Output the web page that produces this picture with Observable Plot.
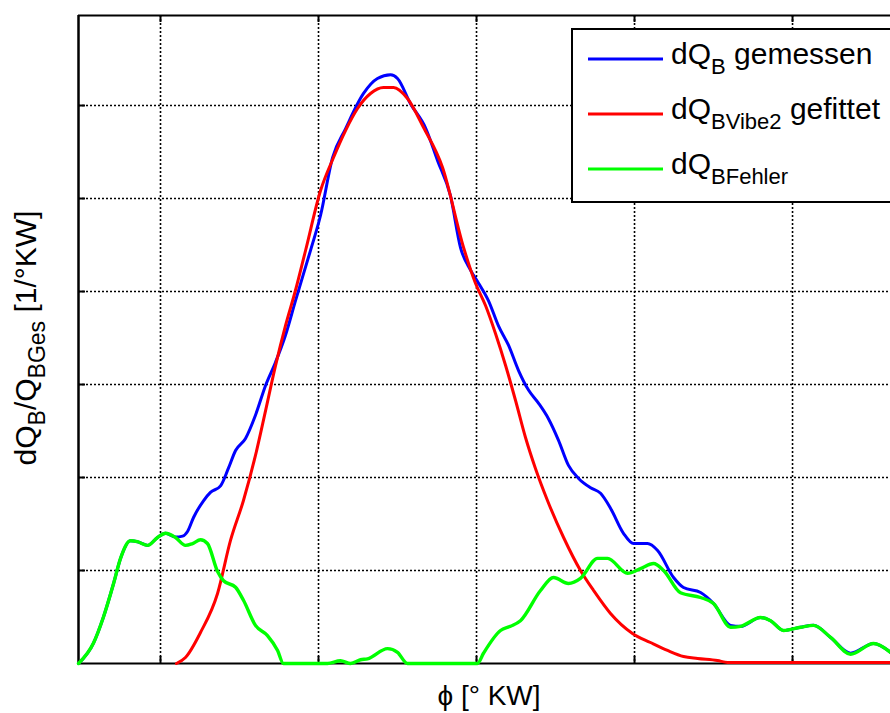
<!DOCTYPE html>
<html>
<head>
<meta charset="utf-8">
<script src="https://cdn.jsdelivr.net/npm/d3@7"></script>
<script src="https://cdn.jsdelivr.net/npm/@observablehq/plot@0.6"></script>
<style>
  html, body { margin: 0; padding: 0; background: #fff; }
  #chart svg { display: block; }
</style>
</head>
<body>
<div id="chart"></div>
<script>
// crank angle [° KW] (gridlines every 10°) and normalised heat release (gridline = 1 unit)
const xDomain = [-25.19, 26.2];
const yDomain = [0, 6.968];
const xTicks = [-20, -10, 0, 10, 20];
const yTicks = [1, 2, 3, 4, 5, 6];

const blueX = [-25.19, -24.24, -23.61, -22.97, -22.53, -21.90, -21.46, -20.82, -20.19, -19.68, -19.05, -18.60, -18.29, -17.91, -17.28, -16.84, -16.20, -15.70, -15.25, -14.62, -13.99, -13.35, -12.72, -12.09, -11.46, -10.51, -9.87, -9.11, -8.29, -7.15, -6.27, -5.44, -5.00, -4.18, -3.23, -2.47, -1.65, -1.01, -0.38, 0.13, 0.76, 1.39, 2.03, 2.66, 3.29, 3.92, 4.56, 5.19, 5.82, 6.46, 7.22, 7.85, 8.48, 9.30, 9.94, 10.82, 11.46, 12.47, 13.10, 14.18, 15.00, 16.08, 16.71, 17.97, 18.61, 19.43, 20.51, 21.33, 22.41, 23.67, 25.13, 26.20];
const blueY = [0, 0.22, 0.50, 0.86, 1.13, 1.32, 1.31, 1.27, 1.355, 1.40, 1.36, 1.37, 1.42, 1.57, 1.75, 1.84, 1.91, 2.10, 2.29, 2.42, 2.67, 2.99, 3.24, 3.53, 3.90, 4.44, 4.82, 5.44, 5.75, 6.13, 6.29, 6.33, 6.29, 6.02, 5.76, 5.41, 5.03, 4.47, 4.23, 4.09, 3.90, 3.63, 3.42, 3.15, 2.94, 2.80, 2.63, 2.40, 2.13, 1.99, 1.89, 1.83, 1.67, 1.40, 1.29, 1.29, 1.215, 0.925, 0.817, 0.763, 0.645, 0.41, 0.40, 0.495, 0.46, 0.355, 0.39, 0.41, 0.28, 0.11, 0.215, 0.12];

const redX = [-18.99, -18.42, -17.47, -16.39, -15.57, -14.75, -13.99, -13.35, -12.72, -12.09, -11.46, -10.82, -9.87, -9.05, -8.29, -7.53, -6.71, -5.89, -5.25, -4.37, -3.35, -2.15, -0.82, -0.06, 0.57, 1.20, 1.84, 2.47, 3.10, 3.73, 4.49, 5.51, 6.58, 7.41, 8.48, 9.87, 11.01, 12.09, 13.10, 13.99, 15.25, 15.89, 26.2];
const redY = [0, 0.065, 0.333, 0.753, 1.323, 1.753, 2.237, 2.72, 3.204, 3.634, 4.011, 4.441, 5.086, 5.441, 5.731, 5.968, 6.129, 6.194, 6.194, 6.075, 5.763, 5.333, 4.473, 4.086, 3.849, 3.548, 3.204, 2.828, 2.430, 2.097, 1.753, 1.355, 1.0, 0.785, 0.538, 0.323, 0.226, 0.140, 0.075, 0.054, 0.032, 0.011, 0.011];

const greenX = [-25.19, -24.24, -23.61, -22.97, -22.53, -21.90, -21.46, -20.82, -20.19, -19.68, -19.05, -18.42, -17.97, -17.47, -17.03, -16.39, -16.01, -15.25, -14.75, -13.99, -13.23, -12.59, -12.22, -9.43, -8.61, -7.97, -7.34, -6.90, -5.63, -5.00, -4.37, 0.06, 0.44, 1.52, 2.15, 2.78, 4.05, 4.87, 5.82, 6.58, 7.66, 8.29, 9.56, 10.38, 11.20, 11.84, 12.91, 14.18, 15.00, 16.08, 16.71, 17.97, 18.61, 19.43, 20.51, 21.33, 22.41, 23.67, 25.13, 26.20];
const greenY = [0, 0.22, 0.50, 0.86, 1.13, 1.32, 1.31, 1.27, 1.355, 1.40, 1.355, 1.27, 1.29, 1.33, 1.29, 0.99, 0.89, 0.82, 0.68, 0.41, 0.30, 0.14, 0, 0, 0.03, 0, 0.04, 0.05, 0.16, 0.12, 0, 0, 0.11, 0.355, 0.40, 0.46, 0.785, 0.925, 0.86, 0.915, 1.13, 1.13, 0.97, 1.02, 1.075, 1.0, 0.76, 0.71, 0.645, 0.39, 0.40, 0.495, 0.46, 0.355, 0.39, 0.41, 0.28, 0.10, 0.215, 0.12];

const seriesNames = ["gemessen", "gefittet", "Fehler"];
const seriesColors = ["#0000ff", "#ff0000", "#00ff00"];

const toRows = (xs, ys) => xs.map((x, i) => ({x, y: ys[i]}));
const blue = toRows(blueX, blueY);
const red = toRows(redX, redY);
const green = toRows(greenX, greenY);

const tickLenX = 7 / 93;     // inward tick length in y units
const tickLenY = 7 / 15.8;   // inward tick length in x units

const plot = Plot.plot({
  width: 890,
  height: 713,
  marginLeft: 78,
  marginRight: 0,
  marginTop: 15,
  marginBottom: 50,
  style: {fontFamily: "'Liberation Sans', Arial, sans-serif", background: "#fff"},
  x: {domain: xDomain, axis: null},
  y: {domain: yDomain, axis: null},
  marks: [
    Plot.ruleX(xTicks, {stroke: "#000", strokeWidth: 1.6, strokeDasharray: "2,2"}),
    Plot.ruleY(yTicks, {stroke: "#000", strokeWidth: 1.6, strokeDasharray: "2,2"}),
    Plot.ruleX(xTicks, {y1: 0, y2: tickLenX, stroke: "#000", strokeWidth: 2}),
    Plot.ruleX(xTicks, {y1: yDomain[1] - tickLenX, y2: yDomain[1], stroke: "#000", strokeWidth: 2}),
    Plot.ruleY(yTicks, {x1: xDomain[0], x2: xDomain[0] + tickLenY, stroke: "#000", strokeWidth: 2}),
    Plot.ruleY([0, yDomain[1]], {stroke: "#000", strokeWidth: 2}),
    Plot.ruleX([xDomain[0]], {stroke: "#000", strokeWidth: 2.5}),
    Plot.line(blue, {x: "x", y: "y", stroke: seriesColors[0], strokeWidth: 3, curve: "monotone-x"}),
    Plot.line(red, {x: "x", y: "y", stroke: seriesColors[1], strokeWidth: 3, curve: "monotone-x"}),
    Plot.line(green, {x: "x", y: "y", stroke: seriesColors[2], strokeWidth: 3.4, curve: "monotone-x"})
  ]
});

document.getElementById("chart").appendChild(plot);

const svg = d3.select(plot);
const font = "'Liberation Sans', Arial, sans-serif";

// axis labels
svg.append("text")
  .attr("x", 489).attr("y", 705)
  .attr("text-anchor", "middle")
  .attr("font-family", font).attr("font-size", 28).attr("fill", "#000")
  .text("ϕ [° KW]");

const yl = svg.append("text")
  .attr("transform", "translate(36,338) rotate(-90)")
  .attr("text-anchor", "middle")
  .attr("font-family", font).attr("font-size", 30).attr("fill", "#000");
yl.append("tspan").text("dQ");
yl.append("tspan").attr("dy", 9).attr("font-size", 23).text("B");
yl.append("tspan").attr("dy", -9).text("/Q");
yl.append("tspan").attr("dy", 9).attr("font-size", 23).text("BGes");
yl.append("tspan").attr("dy", -9).text(" [1/°KW]");

// legend
const lg = svg.append("g").attr("text-anchor", "start");
lg.append("rect")
  .attr("x", 572).attr("y", 29).attr("width", 330).attr("height", 173)
  .attr("fill", "#fff").attr("stroke", "#000").attr("stroke-width", 2);
const subs = ["B", "BVibe2", "BFehler"];
const rest = [" gemessen", " gefittet", ""];
[59, 114, 169].forEach((ly, i) => {
  lg.append("line")
    .attr("x1", 588).attr("x2", 663).attr("y1", ly).attr("y2", ly)
    .attr("stroke", seriesColors[i]).attr("stroke-width", 3);
  const t = lg.append("text")
    .attr("x", 671).attr("y", ly + 5)
    .attr("text-anchor", "start")
    .attr("font-family", font).attr("font-size", 30).attr("fill", "#000");
  t.append("tspan").text("dQ");
  t.append("tspan").attr("dy", 10).attr("font-size", 22).text(subs[i]);
  if (rest[i]) t.append("tspan").attr("dy", -10).text(rest[i]);
});
</script>
</body>
</html>
